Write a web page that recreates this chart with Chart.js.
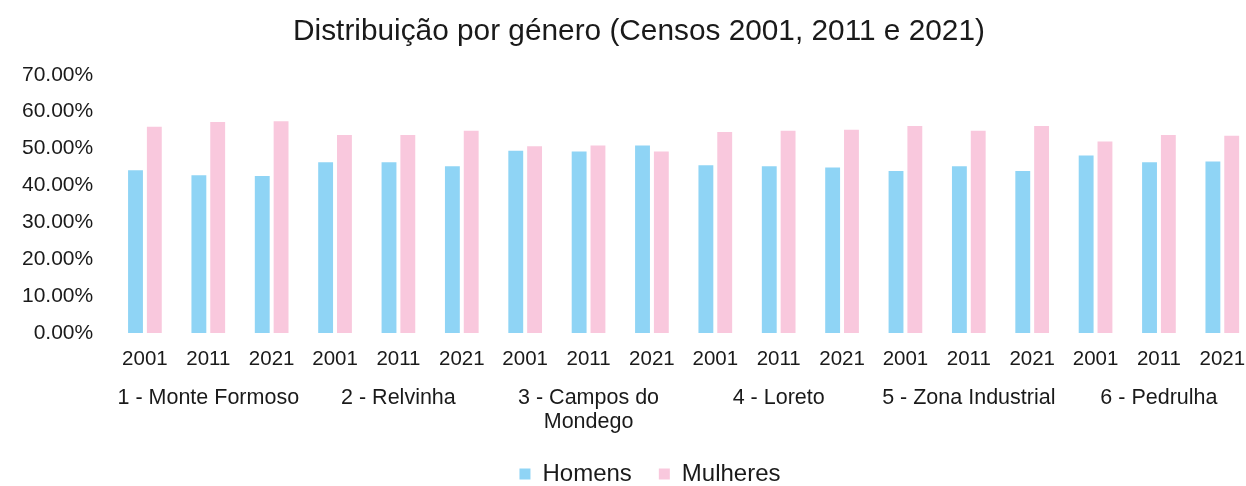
<!DOCTYPE html>
<html>
<head>
<meta charset="utf-8">
<script src="https://cdn.jsdelivr.net/npm/chart.js@4"></script>
<style>
  html, body { margin: 0; padding: 0; background: #fff; overflow: hidden; }
  #wrap { width: 1278px; height: 486px; }
</style>
</head>
<body>
<div id="wrap"><canvas id="chart"></canvas></div>
<script>
// anos por freguesia / zona
const years = ["2001", "2011", "2021", "2001", "2011", "2021", "2001", "2011", "2021",
               "2001", "2011", "2021", "2001", "2011", "2021", "2001", "2011", "2021"];
const groups = ["1 - Monte Formoso", "2 - Relvinha", ["3 - Campos do", "Mondego"],
                "4 - Loreto", "5 - Zona Industrial", "6 - Pedrulha"];
const homens = [44.1, 42.8, 42.6, 46.3, 46.3, 45.2, 49.4, 49.2, 50.8,
                45.5, 45.2, 44.9, 43.9, 45.2, 43.9, 48.1, 46.3, 46.5];
const mulheres = [55.9, 57.2, 57.4, 53.7, 53.7, 54.8, 50.6, 50.8, 49.2,
                  54.5, 54.8, 55.1, 56.1, 54.8, 56.1, 51.9, 53.7, 53.5];
const yTicks = [0, 10, 20, 30, 40, 50, 60, 70];

const font = "'Liberation Sans', Arial, sans-serif";
const txt = "#1a1a1a";

// empurra o título e a legenda para a posição do original
const nudge = {
    id: 'nudge',
    beforeLayout(chart) {
        const l = chart.legend;
        if (l && !l._nudged) {
            const fit = l.fit;
            l.fit = function() { fit.call(this); this.height -= 20; };
            l._nudged = true;
        }
    },
    afterLayout(chart) {
        const t = chart.titleBlock;
        t.left += 11; t.right += 11;
        const l = chart.legend;
        l.left += 22; l.right += 22;
        l.top -= 10; l.bottom += 10;
    }
};

document.addEventListener("DOMContentLoaded", function() {
    const ctx = document.getElementById("chart").getContext("2d");
    new Chart(ctx, {
        type: 'bar',
        data: {
            labels: years,
            datasets: [{
                label: 'Homens',
                data: homens,
                backgroundColor: '#8fd4f5',
                categoryPercentage: 0.594,
                barPercentage: 0.79
            }, {
                label: 'Mulheres',
                data: mulheres,
                backgroundColor: '#f9c8dd',
                categoryPercentage: 0.594,
                barPercentage: 0.79
            }]
        },
        plugins: [nudge],
        options: {
            responsive: true,
            maintainAspectRatio: false,
            animation: false,
            layout: { padding: { left: 2, right: 24, top: 0, bottom: 0 } },
            plugins: {
                title: {
                    display: true,
                    text: 'Distribuição por género (Censos 2001, 2011 e 2021)',
                    color: txt,
                    font: { family: font, size: 29.8, weight: 'normal' },
                    padding: { top: 14, bottom: 25 }
                },
                legend: {
                    position: 'bottom',
                    labels: {
                        color: txt,
                        font: { family: font, size: 24 },
                        boxWidth: 11,
                        boxHeight: 11,
                        padding: 27
                    }
                },
                tooltip: { enabled: false }
            },
            scales: {
                x: {
                    grid: { display: false, drawTicks: false },
                    border: { display: false },
                    ticks: { color: txt, font: { family: font, size: 20.5 }, padding: 14, maxRotation: 0, autoSkip: false }
                },
                x2: {
                    type: 'category',
                    labels: groups,
                    position: 'bottom',
                    offset: true,
                    grid: { display: false, drawTicks: false },
                    border: { display: false },
                    ticks: { color: txt, font: { family: font, size: 21.5, lineHeight: 1.1 }, padding: 1, maxRotation: 0, autoSkip: false },
                    afterFit: function(axis) { axis.height += 10; }
                },
                y: {
                    min: 0,
                    max: 70,
                    afterBuildTicks: function(axis) {
                        axis.ticks = yTicks.map(v => ({ value: v }));
                    },
                    grid: { display: false, drawTicks: false },
                    border: { display: false },
                    ticks: {
                        color: txt,
                        font: { family: font, size: 21 },
                        padding: 20,
                        callback: v => v.toFixed(2) + '%'
                    }
                }
            }
        }
    });
});
</script>
</body>
</html>
